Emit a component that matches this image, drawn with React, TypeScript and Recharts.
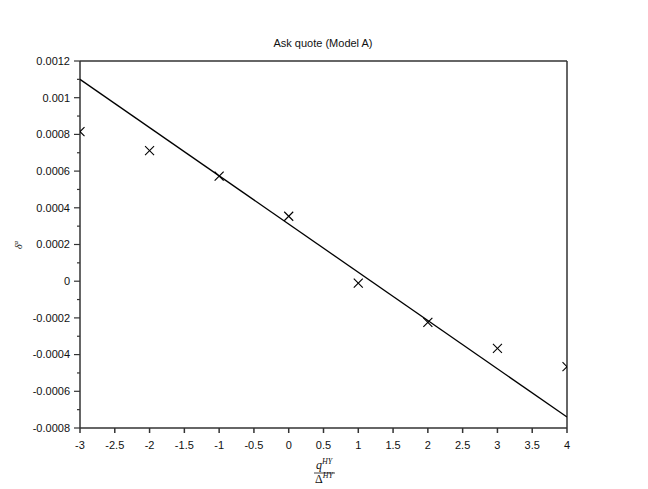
import React from 'react';
import { ComposedChart, Scatter, XAxis, YAxis, ReferenceLine } from 'recharts';

const xValues = [-3, -2, -1, 0, 1, 2, 3, 4];
const deltaValues = [0.000815, 0.000711, 0.000573, 0.000354, -0.00001, -0.000224, -0.000366, -0.000466];
const fitX = [-3, 4];
const fitY = [0.0011, -0.00074];
const xTicks = [-3, -2.5, -2, -1.5, -1, -0.5, 0, 0.5, 1, 1.5, 2, 2.5, 3, 3.5, 4];
const yTicks = [-0.0008, -0.0007, -0.0006, -0.0005, -0.0004, -0.0003, -0.0002, -0.0001, 0, 0.0001, 0.0002, 0.0003, 0.0004, 0.0005, 0.0006, 0.0007, 0.0008, 0.0009, 0.001, 0.0011, 0.0012];
const yMajor = [-0.0008, -0.0006, -0.0004, -0.0002, 0, 0.0002, 0.0004, 0.0006, 0.0008, 0.001, 0.0012];

const points = xValues.map((x, i) => ({ x, y: deltaValues[i] }));
const fit = fitX.map((x, i) => ({ x, y: fitY[i] }));

const FONT = '"Liberation Sans", Arial, sans-serif';
const SERIF = '"Liberation Serif", "Times New Roman", serif';
const AXIS = '#333';

const Cross = (props: any) => {
  const { cx, cy } = props;
  if (cx == null || cy == null) return <g />;
  const r = 4.5;
  return (
    <g stroke="#000" strokeWidth={1.1}>
      <line x1={cx - r} y1={cy - r} x2={cx + r} y2={cy + r} />
      <line x1={cx - r} y1={cy + r} x2={cx + r} y2={cy - r} />
    </g>
  );
};

const YTick = (props: any) => {
  const { x, y, payload } = props;
  const v = payload.value;
  const major = yMajor.some((m) => Math.abs(m - v) < 1e-9);
  return (
    <g>
      <line x1={x - (major ? 6 : 3)} y1={y} x2={x} y2={y} stroke={AXIS} strokeWidth={1.2} />
      {major && (
        <text x={x - 10} y={y} dy="0.35em" textAnchor="end" fontSize={11} fontFamily={FONT} fill="#111">
          {Number(v.toFixed(4)).toString()}
        </text>
      )}
    </g>
  );
};

const XTick = (props: any) => {
  const { x, y, payload } = props;
  return (
    <text x={x} y={y} dy="0.71em" textAnchor="middle" fontSize={11} fontFamily={FONT} fill="#111">
      {String(payload.value)}
    </text>
  );
};

export default function App() {
  return (
    <div style={{ position: 'absolute', left: 0, top: 0, width: 648, height: 489, background: '#fff' }}>
      <ComposedChart width={648} height={489} margin={{ top: 61, right: 81, bottom: 0, left: 0 }}>
        <XAxis
          type="number"
          dataKey="x"
          domain={[-3, 4]}
          ticks={xTicks}
          interval={0}
          allowDataOverflow
          height={61}
          tickSize={5}
          tickMargin={8}
          stroke={AXIS}
          strokeWidth={1.5}
          tick={<XTick />}
        />
        <YAxis
          type="number"
          dataKey="y"
          domain={[-0.0008, 0.0012]}
          ticks={yTicks}
          interval={0}
          allowDataOverflow
          width={80}
          tickSize={0}
          tickMargin={0}
          tickLine={false}
          stroke={AXIS}
          strokeWidth={1.5}
          tick={<YTick />}
        />
        <ReferenceLine y={0.0012} stroke={AXIS} strokeWidth={1.5} />
        <ReferenceLine x={4} stroke={AXIS} strokeWidth={1.5} />
        <Scatter data={fit} line={{ stroke: '#000', strokeWidth: 1.3 }} lineType="joint" shape={() => <g />} isAnimationActive={false} />
        <Scatter data={points} shape={<Cross />} isAnimationActive={false} />
      </ComposedChart>
      <svg width={648} height={489} style={{ position: 'absolute', left: 0, top: 0, pointerEvents: 'none' }}>
        <text x={323} y={47} textAnchor="middle" fontSize={11} fontFamily={FONT} fill="#111">
          Ask quote (Model A)
        </text>
        <g transform="translate(22,245) rotate(-90)">
          <text x={0} y={0} textAnchor="middle" fontSize={10} fontFamily={SERIF} fontStyle="italic" fill="#111">
            δ<tspan dy={-4} fontSize={7}>a</tspan>
          </text>
        </g>
        <text x={324} y={469} textAnchor="middle" fontSize={12} fontFamily={SERIF} fill="#111">
          <tspan fontStyle="italic">q</tspan>
          <tspan dy={-5} fontSize={8} fontStyle="italic">HY</tspan>
        </text>
        <line x1={314} y1={473} x2={335} y2={473} stroke="#111" strokeWidth={0.8} />
        <text x={324} y={483} textAnchor="middle" fontSize={12} fontFamily={SERIF} fill="#111">
          Δ<tspan dy={-5} fontSize={8} fontStyle="italic">HY</tspan>
        </text>
      </svg>
    </div>
  );
}
